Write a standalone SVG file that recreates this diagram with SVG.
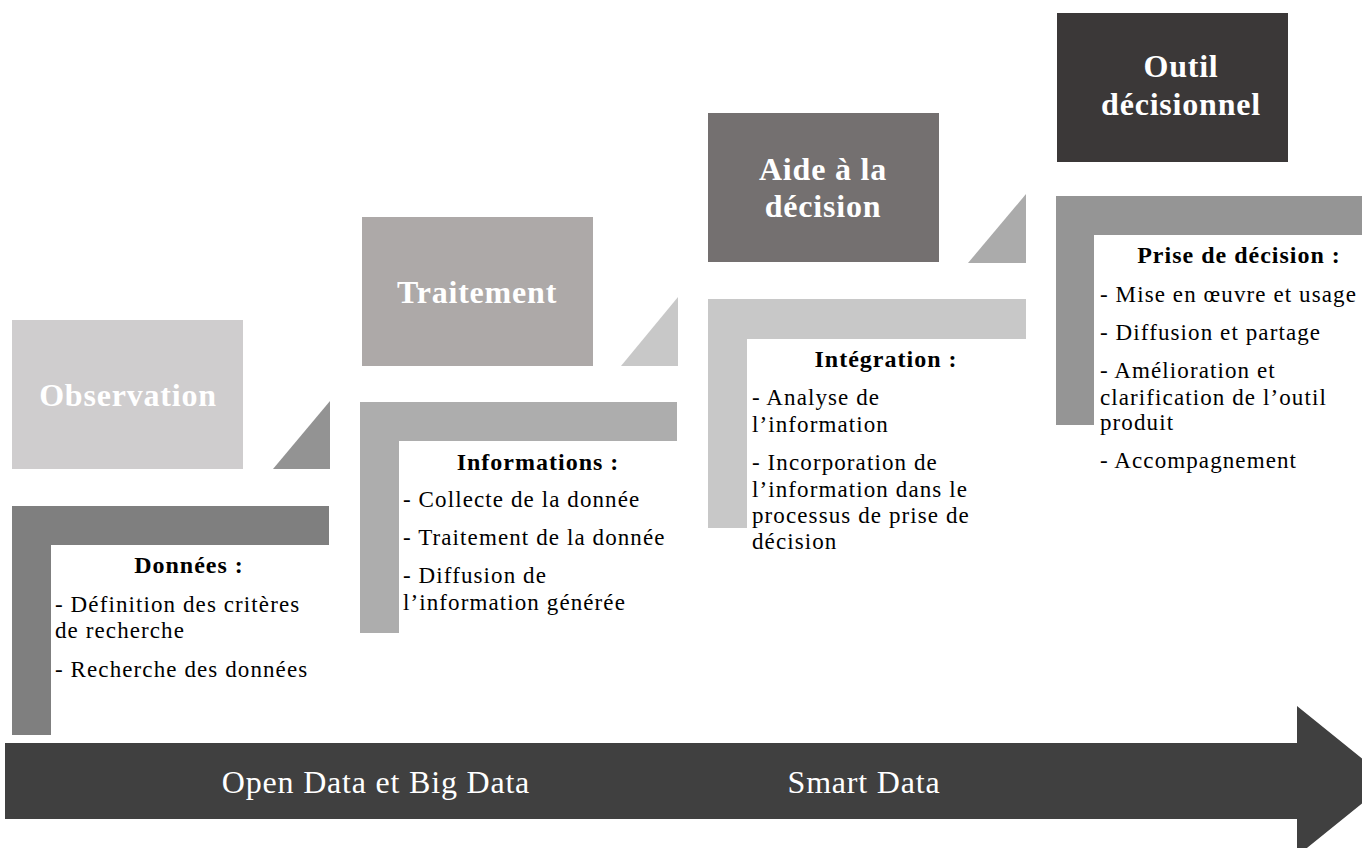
<svg xmlns="http://www.w3.org/2000/svg" width="1362" height="848" viewBox="0 0 1362 848">
<style>
.title{font-family:"Liberation Serif",serif;font-weight:bold;font-size:32px;letter-spacing:0.8px;fill:#ffffff;text-anchor:middle}
.head{font-family:"Liberation Serif",serif;font-weight:bold;font-size:24px;letter-spacing:1px;fill:#000;text-anchor:middle}
.body{font-family:"Liberation Serif",serif;font-size:23px;letter-spacing:1.1px;fill:#000}
.arrowtxt{font-family:"Liberation Serif",serif;font-size:32px;letter-spacing:0.8px;fill:#ffffff;text-anchor:middle}
</style>
<rect width="1362" height="848" fill="#ffffff"/>
<g id="connectors">
<polygon id="timeline" points="5,743 1297,743 1297,706 1390,781 1297,856 1297,819 5,819" fill="#404040"/>
<polygon points="273,469 330,401 330,469" fill="#939393"/>
<polygon points="621,366 678,297 678,366" fill="#C8C8C8"/>
<polygon points="968,263 1026,194 1026,263" fill="#ABABAB"/>
<text class="arrowtxt" x="376" y="793">Open Data et Big Data</text>
<text class="arrowtxt" x="864" y="793">Smart Data</text>
</g>
<g id="observation">
<rect x="12" y="320" width="231" height="149" fill="#CFCDCE"/>
<text class="title" x="128" y="406">Observation</text>
</g>
<g id="donnees">
<polygon points="12,506 329,506 329,545 51,545 51,735 12,735" fill="#7F7F7F"/>
<text class="head" x="189" y="573">Données :</text>
<text class="body" x="55" y="612">- Définition des critères</text>
<text class="body" x="55" y="638">de recherche</text>
<text class="body" x="55" y="677">- Recherche des données</text>
</g>
<g id="traitement">
<rect x="362" y="217" width="231" height="149" fill="#ADA9A8"/>
<text class="title" x="477" y="303">Traitement</text>
</g>
<g id="informations">
<polygon points="360,402 677,402 677,441 399,441 399,633 360,633" fill="#ADADAD"/>
<text class="head" x="538" y="470">Informations :</text>
<text class="body" x="403" y="507">- Collecte de la donnée</text>
<text class="body" x="403" y="545">- Traitement de la donnée</text>
<text class="body" x="403" y="583">- Diffusion de</text>
<text class="body" x="403" y="610">l’information générée</text>
</g>
<g id="aide">
<rect x="708" y="113" width="231" height="149" fill="#747070"/>
<text class="title" x="823" y="180">Aide à la</text>
<text class="title" x="823" y="217">décision</text>
</g>
<g id="integration">
<polygon points="708,299 1026,299 1026,339 747,339 747,528 708,528" fill="#C8C8C8"/>
<text class="head" x="886" y="367">Intégration :</text>
<text class="body" x="752" y="405">- Analyse de</text>
<text class="body" x="752" y="432">l’information</text>
<text class="body" x="752" y="470">- Incorporation de</text>
<text class="body" x="752" y="497">l’information dans le</text>
<text class="body" x="752" y="523">processus de prise de</text>
<text class="body" x="752" y="549">décision</text>
</g>
<g id="outil">
<rect x="1057" y="13" width="231" height="149" fill="#3B3838"/>
<text class="title" x="1181" y="77">Outil</text>
<text class="title" x="1181" y="115">décisionnel</text>
</g>
<g id="prise">
<polygon points="1056,196 1362,196 1362,235 1094,235 1094,425 1056,425" fill="#959595"/>
<text class="head" x="1239" y="263">Prise de décision :</text>
<text class="body" x="1100" y="302">- Mise en œuvre et usage</text>
<text class="body" x="1100" y="340">- Diffusion et partage</text>
<text class="body" x="1100" y="378">- Amélioration et</text>
<text class="body" x="1100" y="405">clarification de l’outil</text>
<text class="body" x="1100" y="430">produit</text>
<text class="body" x="1100" y="468">- Accompagnement</text>
</g>
</svg>
